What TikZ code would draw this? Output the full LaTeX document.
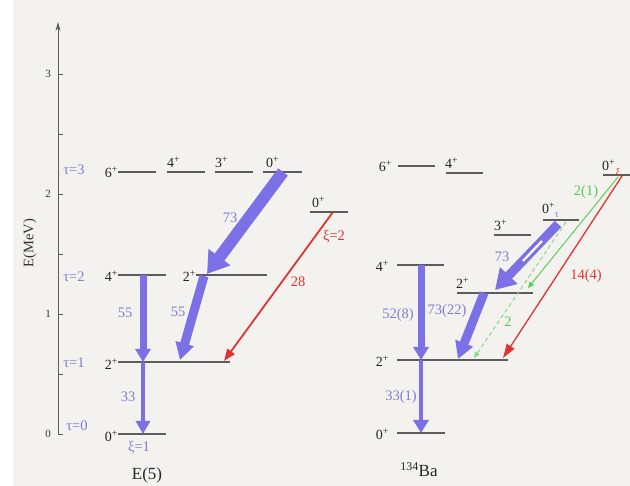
\documentclass[tikz,border=0pt]{standalone}
\usepackage{fontspec}
\setmainfont{Liberation Serif}
\usetikzlibrary{arrows.meta}
\definecolor{bgc}{HTML}{F4F2EE}
\definecolor{bandc}{HTML}{7B70E6}
\definecolor{lblc}{HTML}{7E7ED2}
\definecolor{rdc}{HTML}{DF3434}
\definecolor{grc}{HTML}{4FCB4F}
\definecolor{grl}{HTML}{86DA86}
\definecolor{levc}{HTML}{5C5C5C}
\begin{document}
\begin{tikzpicture}[x=1pt,y=-1pt,
  lev/.style={draw=levc,line width=1.2pt},
  lvl/.style={font=\fontsize{14}{15}\selectfont,inner sep=0pt,text=black!85},
  tlbl/.style={font=\fontsize{14.5}{15}\selectfont,inner sep=0pt,text=lblc},
  rlbl/.style={font=\fontsize{14.5}{15}\selectfont,inner sep=0pt,text=rdc},
  glbl/.style={font=\fontsize{14.5}{15}\selectfont,inner sep=0pt,text=grc},
  ticklbl/.style={font=\fontsize{11}{12}\selectfont,inner sep=0pt,text=black!80},
  title/.style={font=\fontsize{17}{18}\selectfont,inner sep=0pt,text=black!85},
]
% background
\fill[bgc] (0,0) rectangle (630,486);
\fill[white] (0,0) rectangle (13,486);
\useasboundingbox (0,0) rectangle (630,486);

% axis
\coordinate (ax0) at (58,434);
\coordinate (axT) at (58,22);
\draw[levc,line width=0.8pt,-{Stealth[length=9pt,width=5pt]}] (ax0) -- (axT);
\foreach \yy in {434,374,314,254,194,134,74} \draw[levc,line width=0.8pt] (58,\yy) -- (63,\yy);
\node[ticklbl] (t0) at (48,434) {0};
\node[ticklbl] (t1) at (48,314) {1};
\node[ticklbl] (t2) at (48,194) {2};
\node[ticklbl] (t3) at (48,74) {3};
\node[font=\fontsize{14.5}{15}\selectfont,rotate=90,inner sep=0pt,text=black!80] (ylab) at (30,243) {E(MeV)};

% tau labels
\node[tlbl] (tau3) at (74,170) {τ=3};
\node[tlbl] (tau2) at (74,277) {τ=2};
\node[tlbl] (tau1) at (74,363) {τ=1};
\node[tlbl] (tau0) at (77,426) {τ=0};

% ===== E(5) levels =====
\draw[lev] (118,172) coordinate (E6l) -- (156,172) coordinate (E6r);
\draw[lev] (167,172) coordinate (E4al) -- (205,172) coordinate (E4ar);
\draw[lev] (215,172) coordinate (E3l) -- (253,172) coordinate (E3r);
\draw[lev] (263,172) coordinate (E0tl) -- (302,172) coordinate (E0tr);
\draw[lev] (310,212) coordinate (E0xl) -- (348,212) coordinate (E0xr);
\draw[lev] (118,275) coordinate (E4l) -- (166,275) coordinate (E4r);
\draw[lev] (196,275) coordinate (E2bl) -- (267,275) coordinate (E2br);
\draw[lev] (118,362) coordinate (E2l) -- (230,362) coordinate (E2r);
\draw[lev] (118,434) coordinate (E0l) -- (166,434) coordinate (E0r);

\node[lvl,anchor=east] (lE6) at (118,172) {6\textsuperscript{+}};
\node[lvl,anchor=south west] (lE4a) at (167,168) {4\textsuperscript{+}};
\node[lvl,anchor=south west] (lE3) at (215,168) {3\textsuperscript{+}};
\node[lvl,anchor=south west] (lE0t) at (266,168) {0\textsuperscript{+}};
\node[lvl,anchor=south west] (lE0x) at (312,208) {0\textsuperscript{+}};
\node[lvl,anchor=east] (lE4) at (118,276) {4\textsuperscript{+}};
\node[lvl,anchor=east] (lE2b) at (196,276) {2\textsuperscript{+}};
\node[lvl,anchor=east] (lE2) at (118,364) {2\textsuperscript{+}};
\node[lvl,anchor=east] (lE0) at (118,436) {0\textsuperscript{+}};
\node[tlbl] (xi1) at (139,448) {ξ=1};
\node[rlbl] (xi2) at (334,237) {ξ=2};
\node[title] (e5) at (147,475) {E(5)};

% E(5) transitions
\coordinate (a1s) at (143,275); \coordinate (a1e) at (143,362);
\draw[bandc,line width=7pt,-{Triangle[length=13pt,width=15pt]}] (a1s) -- (a1e);
\coordinate (a2s) at (143,362); \coordinate (a2e) at (143,434);
\draw[bandc,line width=4.5pt,-{Triangle[length=13pt,width=14pt]}] (a2s) -- (a2e);
\coordinate (a3s) at (204,276); \coordinate (a3e) at (180,360);
\draw[bandc,line width=9pt,-{Triangle[length=17pt,width=18pt]}] (a3s) -- (a3e);
\coordinate (a4s) at (283,172); \coordinate (a4e) at (207,274);
\draw[bandc,line width=12pt,-{Triangle[length=21pt,width=26pt]}] (a4s) -- (a4e);
\coordinate (a5s) at (333,212); \coordinate (a5e) at (224,361);
\draw[rdc,line width=1.8pt,-{Triangle[length=12pt,width=9pt]}] (a5s) -- (a5e);

\node[tlbl] (n55a) at (125,313) {55};
\node[tlbl] (n55b) at (178,312) {55};
\node[tlbl] (n33) at (128,397) {33};
\node[tlbl] (n73) at (230,218) {73};
\node[rlbl] (n28) at (298,282) {28};

% ===== 134Ba levels =====
\draw[lev] (398,166) coordinate (B6l) -- (435,166) coordinate (B6r);
\draw[lev] (446,173) coordinate (B4al) -- (483,173) coordinate (B4ar);
\draw[lev] (603,175) coordinate (B0xl) -- (630,175) coordinate (B0xr);
\draw[lev] (543,220) coordinate (B0tl) -- (579,220) coordinate (B0tr);
\draw[lev] (494,235) coordinate (B3l) -- (531,235) coordinate (B3r);
\draw[lev] (397,265) coordinate (B4l) -- (444,265) coordinate (B4r);
\draw[lev] (457,293) coordinate (B2bl) -- (533,293) coordinate (B2br);
\draw[lev] (397,360) coordinate (B2l) -- (508,360) coordinate (B2r);
\draw[lev] (397,433) coordinate (B0l) -- (445,433) coordinate (B0r);

\node[lvl,anchor=east] (lB6) at (392,166) {6\textsuperscript{+}};
\node[lvl,anchor=south west] (lB4a) at (445,169) {4\textsuperscript{+}};
\node[lvl,anchor=south west] (lB0x) at (602,171) {0\textsuperscript{+}};
\node[rlbl,font=\fontsize{10}{10}\selectfont] (lB0xs) at (618,173) {ξ};
\node[lvl,anchor=south west] (lB0t) at (542,214) {0\textsuperscript{+}};
\node[tlbl,font=\fontsize{10}{10}\selectfont] (lB0ts) at (557,215) {τ};
\node[lvl,anchor=south west] (lB3) at (494,231) {3\textsuperscript{+}};
\node[lvl,anchor=east] (lB4) at (389,266) {4\textsuperscript{+}};
\node[lvl,anchor=south west] (lB2b) at (456,289) {2\textsuperscript{+}};
\node[lvl,anchor=east] (lB2) at (389,361) {2\textsuperscript{+}};
\node[lvl,anchor=east] (lB0) at (389,434) {0\textsuperscript{+}};
\node[title] (ba) at (419,470) {\textsuperscript{134}Ba};

% 134Ba transitions
\coordinate (b1s) at (421,265); \coordinate (b1e) at (421,360);
\draw[bandc,line width=7pt,-{Triangle[length=13pt,width=15pt]}] (b1s) -- (b1e);
\coordinate (b2s) at (421,360); \coordinate (b2e) at (421,433);
\draw[bandc,line width=3.5pt,-{Triangle[length=13pt,width=15pt]}] (b2s) -- (b2e);
\coordinate (b3s) at (484,293); \coordinate (b3e) at (458,359);
\draw[bandc,line width=9pt,-{Triangle[length=17pt,width=18pt]}] (b3s) -- (b3e);
\coordinate (b4s) at (558,224); \coordinate (b4e) at (495,290);
\draw[bandc,line width=9pt,-{Triangle[length=20pt,width=23pt]}] (b4s) -- (b4e);
\coordinate (b4w1) at (542,241); \coordinate (b4w2) at (523,261);
\draw[white,line width=2.2pt] (b4w1) -- (b4w2);
\coordinate (b5s) at (566,222); \coordinate (b5e) at (474,358);
\draw[grl,line width=1pt,dashed,dash pattern=on 4pt off 3pt,-{Triangle[length=6pt,width=5pt]}] (b5s) -- (b5e);
\coordinate (b6s) at (618,177); \coordinate (b6e) at (528,288);
\draw[grc,line width=0.9pt,-{Triangle[length=6pt,width=5pt]}] (b6s) -- (b6e);
\coordinate (b7s) at (622,176); \coordinate (b7e) at (503,358);
\draw[rdc,line width=1.3pt,-{Triangle[length=14pt,width=9pt]}] (b7s) -- (b7e);

\node[tlbl] (m52) at (398,315) {52(8)};
\node[tlbl] (m73b) at (447,311) {73(22)};
\node[tlbl] (m33) at (401,397) {33(1)};
\node[tlbl] (m73) at (502,257) {73};
\node[glbl] (m2) at (508,322) {2};
\node[glbl] (m21) at (586,192) {2(1)};
\node[rlbl] (m14) at (586,276) {14(4)};
\end{tikzpicture}
\end{document}
